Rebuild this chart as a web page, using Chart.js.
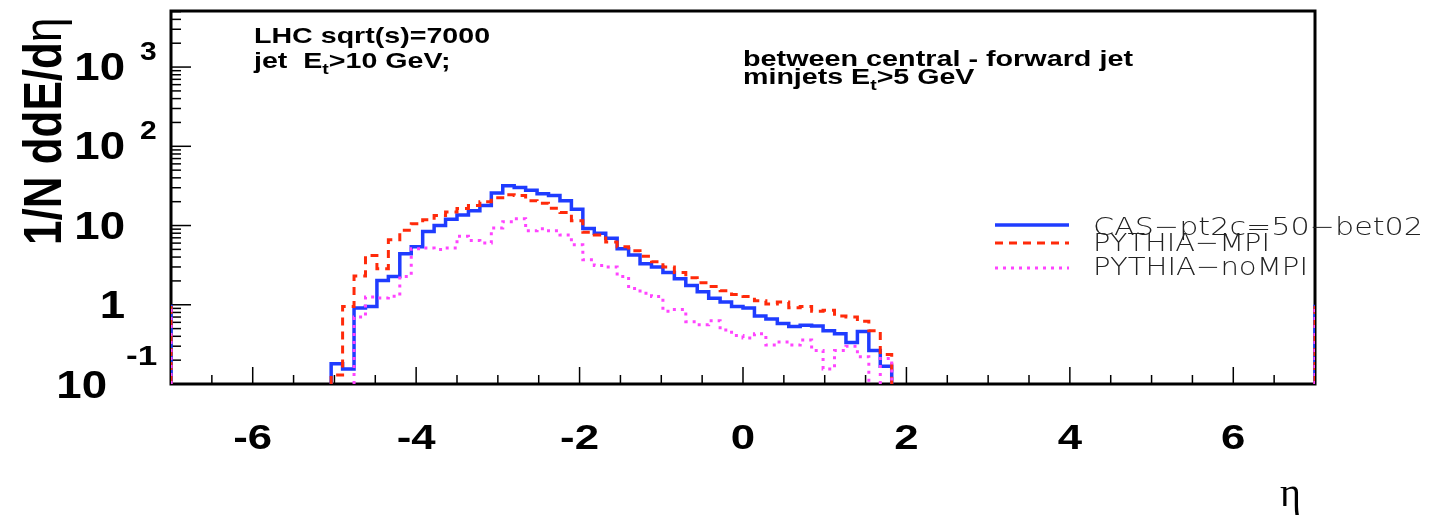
<!DOCTYPE html>
<html>
<head>
<meta charset="utf-8">
<title>1/N ddE/dη</title>
<script src="https://cdn.jsdelivr.net/npm/chart.js@4.4.1/dist/chart.umd.min.js"></script>
<style>
  html, body { margin: 0; padding: 0; background: #fff; }
  canvas { display: block; }
</style>
</head>
<body>
<canvas id="eta-canvas" width="1429" height="516"></canvas>
<script>
// binning: 100 bins over -7..7, the filled ones start at -5.04
const binWidth = 0.14;
const firstBinLow = -5.04;
const etaRange = [-7, 7];
const yRange = [0.1, 5100];

// 1/N dE/deta per bin, from -5.04 up to 1.82
const casValues = [
    0.18, 0.155, 0.91, 0.95, 2.03, 2.28, 4.4, 5.4, 8.4, 10.0,
    12.0, 13.6, 15.4, 17.9, 25.8, 31.8, 30.3, 27.8, 25.1, 24.0,
    20.5, 16.1, 9.2, 8.0, 6.9, 5.1, 4.25, 3.3, 3.0, 2.55,
    2.13, 1.75, 1.46, 1.21, 1.08, 0.95, 0.91, 0.72, 0.66, 0.58,
    0.53, 0.55, 0.54, 0.47, 0.43, 0.335, 0.46, 0.265, 0.167
];
const mpiValues = [
    0.13, 0.95, 2.3, 4.2, 2.85, 6.6, 8.7, 10.5, 11.8, 13.4,
    14.8, 16.4, 17.9, 20.0, 22.4, 24.4, 23.9, 20.6, 19.1, 16.5,
    14.6, 11.5, 8.2, 7.6, 6.2, 5.4, 4.8, 4.1, 3.5, 3.0,
    2.55, 2.2, 1.9, 1.7, 1.5, 1.35, 1.27, 1.12, 1.02, 1.08,
    0.92, 0.95, 0.83, 0.85, 0.72, 0.70, 0.62, 0.47, 0.235
];
const noMpiValues = [
    0, 0, 0.70, 1.25, 1.22, 1.28, 2.28, 5.1, 5.2, 5.0,
    5.2, 7.3, 6.45, 6.0, 9.3, 11.2, 12.2, 8.6, 9.1, 8.6,
    7.6, 5.7, 3.7, 3.13, 3.0, 2.28, 1.6, 1.40, 1.27, 0.83,
    0.87, 0.61, 0.56, 0.63, 0.48, 0.41, 0.38, 0.43, 0.31, 0.34,
    0.31, 0.36, 0.265, 0.155, 0.265, 0.30, 0.22, 0, 0.21
];
// the little lines sitting on the frame edges
const edgeValue = 1;

const seriesNames = ['CAS\u2212pt2c=50\u2212bet02', 'PYTHIA\u2212MPI', 'PYTHIA\u2212noMPI'];
const seriesColors = ['#1f3cff', '#ff2a0a', '#ff44ff'];
const xTickValues = [-6, -4, -2, 0, 2, 4, 6];
const yTickValues = [0.1, 1, 10, 100, 1000];
const yTickBase = ['10', '1', '10', '10', '10'];
const yTickExp = ['-1', '', '', '2', '3'];

// histogram outline as stepped points, broken where the bin is below the axis minimum
function stepPoints(values) {
    const yMin = yRange[0];
    const pts = [{x: etaRange[0], y: yMin}, {x: etaRange[0], y: edgeValue}, {x: etaRange[0], y: null}];
    let open = false;
    values.forEach((v, i) => {
        const x0 = firstBinLow + i * binWidth;
        if (v >= yMin) {
            if (!open) { pts.push({x: x0, y: yMin}); open = true; }
            pts.push({x: x0, y: v});
        } else if (open) {
            pts.push({x: x0, y: yMin}, {x: x0, y: null});
            open = false;
        }
    });
    const xEnd = firstBinLow + values.length * binWidth;
    if (open) pts.push({x: xEnd, y: yMin});
    pts.push({x: xEnd, y: null}, {x: etaRange[1], y: yMin}, {x: etaRange[1], y: edgeValue});
    return pts;
}

function drawText(ctx, str, x, y, font, opt = {}) {
    ctx.save();
    ctx.font = font;
    ctx.fillStyle = opt.color || '#000';
    const w = ctx.measureText(str).width;
    const sx = opt.width ? opt.width / w : (opt.sx || 1);
    ctx.translate(x, y);
    if (opt.rot) ctx.rotate(opt.rot);
    ctx.scale(sx, opt.sy || 1);
    ctx.textAlign = opt.align || 'left';
    ctx.textBaseline = 'alphabetic';
    ctx.fillText(str, 0, 0);
    ctx.restore();
    return x + w * sx;
}

const dashes = [[], [8, 6], [3, 5]];
const widths = [3.5, 3, 3];

// frame, inward ticks and all the labels
const rootStyle = {
    id: 'rootStyle',
    beforeDatasetsDraw(chart) {
        const {ctx, chartArea: a, scales: {x, y}} = chart;
        ctx.save();
        ctx.strokeStyle = '#000';
        ctx.lineWidth = 1.5;
        for (let v = etaRange[0]; v <= etaRange[1]; v += 0.5) {
            const px = x.getPixelForValue(v);
            const len = v % 2 === 0 ? 17 : 9;
            ctx.beginPath();
            ctx.moveTo(px, a.bottom);
            ctx.lineTo(px, a.bottom - len);
            ctx.stroke();
        }
        for (let d = -1; d <= 3; d++) {
            for (let m = 1; m <= 9; m++) {
                const v = m * Math.pow(10, d);
                if (v > yRange[1]) break;
                const py = y.getPixelForValue(v);
                ctx.beginPath();
                ctx.moveTo(a.left, py);
                ctx.lineTo(a.left + (m === 1 ? 20 : 10), py);
                ctx.stroke();
            }
        }
        ctx.lineWidth = 3;
        ctx.strokeRect(a.left, a.top, a.right - a.left, a.bottom - a.top);
        ctx.restore();
    },
    afterDatasetsDraw(chart) {
        const {ctx, scales: {x, y}} = chart;

        // x tick labels
        xTickValues.forEach(v => {
            drawText(ctx, String(v), x.getPixelForValue(v), 449, 'bold 35px "Liberation Sans"', {sx: 1.25, align: 'center'});
        });

        // y tick labels with exponents
        const big = 'bold 38px "Liberation Sans"';
        const small = 'bold 25px "Liberation Sans"';
        yTickValues.forEach((v, i) => {
            const py = y.getPixelForValue(v);
            if (yTickExp[i] === '-1') {
                drawText(ctx, yTickBase[i], 107, py + 14, big, {sx: 1.2, align: 'right'});
                drawText(ctx, yTickExp[i], 126, py - 19, 'bold 27px "Liberation Sans"', {sx: 1.3});
            } else {
                drawText(ctx, yTickBase[i], 125, py + 13, big, {sx: 1.2, align: 'right'});
                if (yTickExp[i]) drawText(ctx, yTickExp[i], 140, py - 7, small, {sx: 1.2});
            }
        });

        // axis titles
        const titleBold = 'bold 44px "Liberation Sans"';
        ctx.font = titleBold;
        const w1 = ctx.measureText('1/N ddE/d').width;
        drawText(ctx, '1/N ddE/d', 61, 245, titleBold, {rot: -Math.PI / 2, sy: 1.2});
        drawText(ctx, 'η', 61, 245 - w1, '44px "Liberation Sans"', {rot: -Math.PI / 2, sy: 1.2});
        drawText(ctx, 'η', 1280, 506, '40px "Liberation Serif"');

        // annotations
        const ann = 'bold 22px "Liberation Sans"';
        const sub = 'bold 15px "Liberation Sans"';
        drawText(ctx, 'LHC sqrt(s)=7000', 254, 43, ann, {sx: 1.3});
        let cx = drawText(ctx, 'jet  E', 254, 68, ann, {sx: 1.3});
        cx = drawText(ctx, 't', cx, 74, sub, {sx: 1.3});
        drawText(ctx, '>10 GeV;', cx, 68, ann, {sx: 1.3});
        drawText(ctx, 'between central - forward jet', 743, 66, ann, {width: 390});
        cx = drawText(ctx, 'minjets E', 743, 84, ann, {sx: 1.3});
        cx = drawText(ctx, 't', cx, 90, sub, {sx: 1.3});
        drawText(ctx, '>5 GeV', cx, 84, ann, {sx: 1.3});

        // legend
        const legY = [225, 243, 268];
        const legBase = [235, 251, 275];
        const legW = [330, 177, 215];
        chart.data.datasets.forEach((ds, i) => {
            ctx.save();
            ctx.strokeStyle = ds.borderColor;
            ctx.lineWidth = widths[i];
            ctx.setLineDash(dashes[i]);
            ctx.beginPath();
            ctx.moveTo(995, legY[i]);
            ctx.lineTo(1069, legY[i]);
            ctx.stroke();
            ctx.restore();
            drawText(ctx, ds.label, 1093, legBase[i], '200 25px "DejaVu Sans"', {width: legW[i], color: '#222'});
        });
    }
};

const datasets = [casValues, mpiValues, noMpiValues].map((vals, i) => ({
    label: seriesNames[i],
    data: stepPoints(vals),
    borderColor: seriesColors[i],
    borderWidth: widths[i],
    borderDash: dashes[i],
    borderCapStyle: 'butt',
    borderJoinStyle: 'miter',
    stepped: true,
    pointRadius: 0,
    spanGaps: false,
    order: 3 - i
}));

window.onload = function() {
    const ctx = document.getElementById('eta-canvas').getContext('2d');
    new Chart(ctx, {
        type: 'line',
        data: { datasets: datasets },
        options: {
            responsive: false,
            animation: false,
            devicePixelRatio: 1,
            layout: { padding: { left: 171, right: 114, top: 11, bottom: 132 } },
            plugins: { legend: { display: false }, tooltip: { enabled: false } },
            scales: {
                x: { type: 'linear', min: etaRange[0], max: etaRange[1], display: false },
                y: { type: 'logarithmic', min: yRange[0], max: yRange[1], display: false }
            }
        },
        plugins: [rootStyle]
    });
};
</script>
</body>
</html>
